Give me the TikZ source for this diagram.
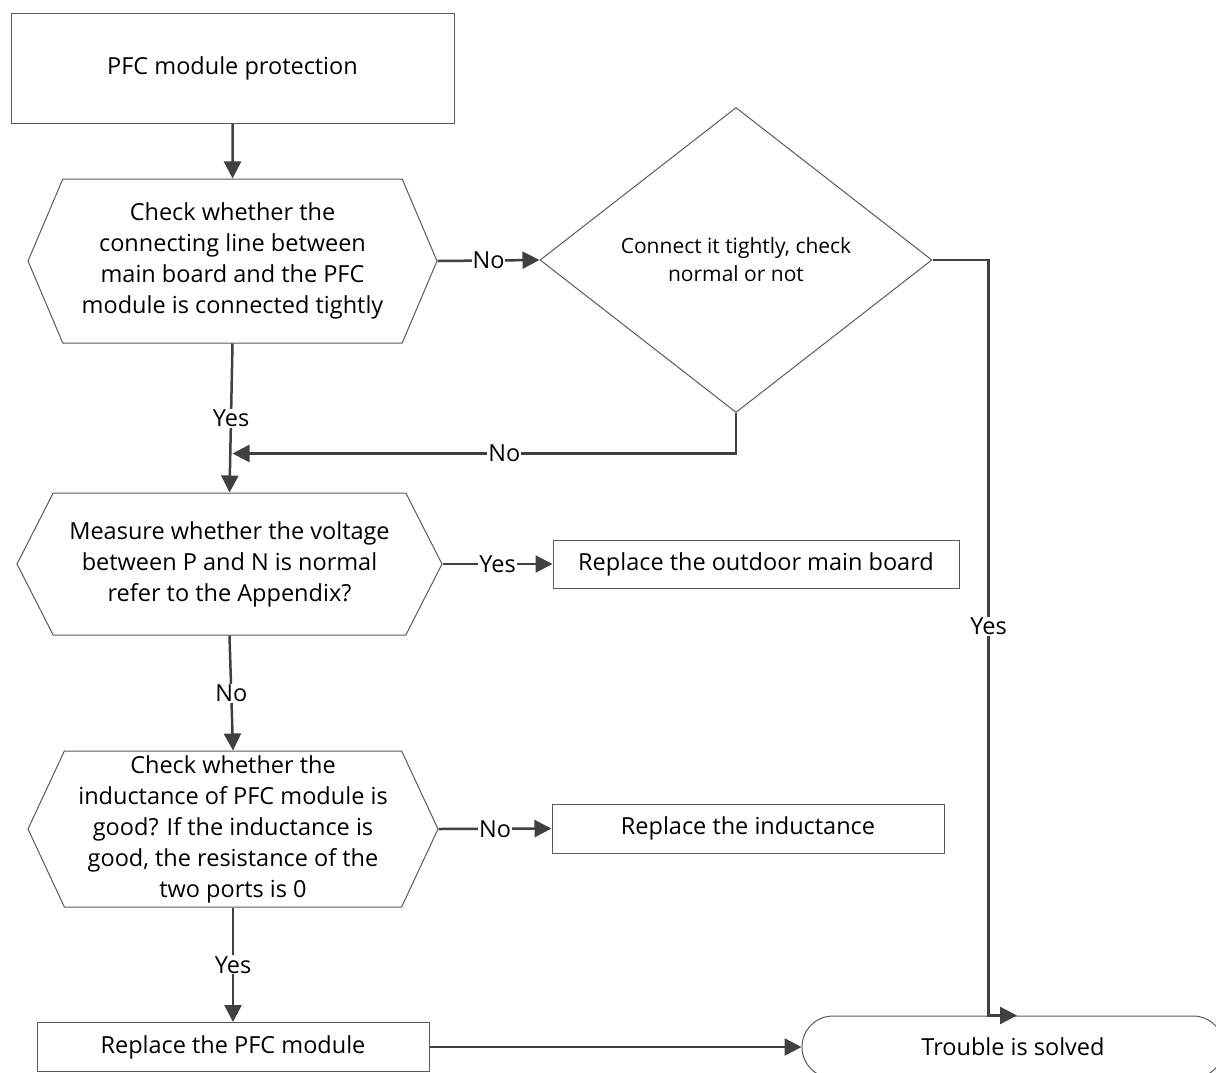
\documentclass[tikz,border=0pt]{standalone}
\usepackage{fontspec}
\setmainfont{Open Sans}
\usetikzlibrary{shapes.geometric, shapes.misc, shapes.symbols, arrows.meta, positioning, calc}

\definecolor{linegray}{HTML}{404040}
\definecolor{edgegray}{HTML}{5A5A5A}

\begin{document}
\begin{tikzpicture}[
		x=1pt, y=-1pt,
		every node/.style={font=\fontsize{23.5}{31}\selectfont, text=black},
		block/.style={
			rectangle,
			draw=edgegray,
			line width=1pt,
			align=center,
			inner sep=0pt
		},
		check/.style={
			signal,
			signal to=west and east,
			draw=edgegray,
			line width=1pt,
			align=center,
			inner sep=0pt
		},
		decision/.style={
			diamond,
			draw=edgegray,
			line width=1pt,
			align=center,
			inner sep=0pt,
			font=\fontsize{21}{28}\selectfont
		},
		terminal/.style={
			rounded rectangle,
			draw=edgegray,
			line width=1pt,
			inner sep=0pt
		},
		arrow/.style={
			-{Triangle[length=17pt, width=17pt]},
			line width=2.5pt,
			draw=linegray
		},
		lbl/.style={fill=white, inner sep=1pt}
		]
		
		\clip (0,0) rectangle (1216,1072);
		
		% Main nodes
		\node (start) [block, minimum width=443, minimum height=110] at (232.5,68) {PFC module protection};
		\node (check) [check, minimum width=409, minimum height=164, signal pointer angle=134] at (232.5,261) {Check whether the\\connecting line between\\main board and the PFC\\module is connected tightly};
		\node (connect) [decision, minimum width=392, minimum height=305] at (736,260) {Connect it tightly, check\\normal or not};
		\node (measure) [check, minimum width=425, minimum height=142, signal pointer angle=126] at (229.5,564) {Measure whether the voltage\\between P and N is normal\\refer to the Appendix?};
		\node (outdoor) [block, minimum width=406, minimum height=48] at (756,564) {Replace the outdoor main board};
		\node (induct) [check, minimum width=410, minimum height=156, signal pointer angle=130] at (233,829) {Check whether the\\inductance of PFC module is\\good? If the inductance is\\good, the resistance of the\\two ports is 0};
		\node (newind) [block, minimum width=392, minimum height=49] at (748,828.5) {Replace the inductance};
		\node (newpfc) [block, minimum width=392, minimum height=49] at (233,1047) {Replace the PFC module};
		\node (solved) [terminal, minimum width=422, minimum height=62] at (1013,1047) {Trouble is solved};
		
		% Where the No branch of the diamond meets the Yes line
		\coordinate (merge) at ($(check.south)+(0,110)$);
		
		% Connection arrows
		\draw [arrow] (start) -- (check);
		\draw [arrow] (check.east) -- node[lbl] {No} (connect.west);
		\draw [arrow] (check.south) -- node[lbl] {Yes} (measure.north);
		\draw [arrow] (connect.south) |- node[lbl, pos=0.73] {No} (merge);
		\draw [arrow] (measure.east) -- node[lbl] {Yes} (outdoor.west);
		\draw [arrow] (measure.south) -- node[lbl] {No} (induct.north);
		\draw [arrow] (induct.east) -- node[lbl] {No} (newind.west);
		\draw [arrow] (induct.south) -- node[lbl] {Yes} (newpfc.north);
		\draw [arrow] (newpfc.east) -- (solved.west);
		\draw [arrow] (connect.east) -- ++(56,0) coordinate (turn) -- node[lbl, pos=0.485] {Yes} (turn |- solved.north) -- ($(solved.north)+(4,0)$);
		
	\end{tikzpicture}
\end{document}
